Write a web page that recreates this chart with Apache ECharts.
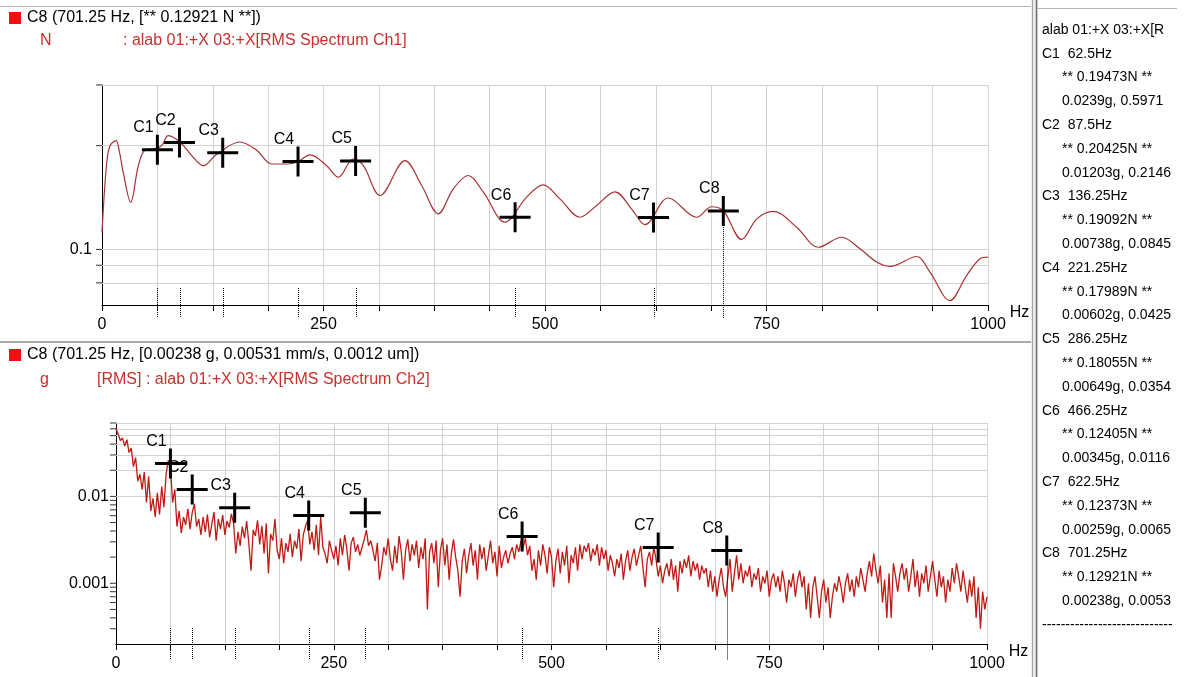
<!DOCTYPE html>
<html><head><meta charset="utf-8">
<script src="https://cdn.jsdelivr.net/npm/echarts@6/dist/echarts.min.js"></script>
<style>html,body{margin:0;padding:0;background:#fff}#chart{width:1191px;height:677px}</style>
</head><body><div id="chart"></div>
<script>
// ---------- data ----------
const TOP_HZ = [0,5,9,15.8,20,24,32.4,41,48.5,59.8,67.4,74.8,88,103,114.4,129.4,155.8,174.6,191.5,208.5,219.8,234.8,253.6,266.7,283.7,295,313.8,342,360.8,379.6,396.5,413.4,430.4,454.9,479.3,498,517,539.5,558,579,597.8,612.9,639.2,671.2,688,701.25,722,739,757.7,784,808.5,834.8,855.5,874.4,889.4,919.5,934.5,957,976,991,1000];
const TOP_N = [0.112,0.175,0.2,0.207,0.19,0.167,0.137,0.175,0.194,0.196,0.2,0.214,0.205,0.185,0.175,0.189,0.205,0.194,0.177,0.177,0.179,0.188,0.175,0.162,0.183,0.175,0.1434,0.181,0.1533,0.1269,0.150,0.1639,0.1466,0.120,0.1418,0.154,0.140,0.124,0.134,0.147,0.131,0.118,0.141,0.124,0.133,0.1295,0.1069,0.1227,0.129,0.116,0.1015,0.1085,0.1005,0.0919,0.0893,0.0954,0.086,0.0711,0.0841,0.094,0.095];

const BOT_STEP_HZ = 2.5;
const BOT_G = [
.060,.052,.044,.047,.038,.045,.032,.036,.022,.028,.015,.018,.012,.019,.0085,.017,.0068,.0095,.0058,.011,
.0062,.013,.0075,.018,.026,.022,.0085,.012,.0045,.0068,.0038,.0058,.0047,.0072,.0042,.0065,.0082,.0045,.0055,.0036,
.0058,.0039,.0062,.0034,.0048,.0066,.0031,.0055,.0042,.0061,.0036,.0052,.0044,.0063,.0049,.0022,.0039,.0027,.0045,.0033,
.0052,.0029,.0014,.0041,.0035,.0053,.0028,.0046,.0022,.0049,.0013,.0037,.0031,.0055,.0024,.0019,.0033,.0017,.0029,.0023,
.0037,.002,.0031,.0025,.0042,.0018,.0036,.0045,.0053,.0028,.0039,.0024,.0047,.0021,.0058,.0026,.0022,.0017,.0031,.0024,
.0019,.0027,.0016,.0033,.0021,.0036,.0025,.0014,.0029,.0034,.0023,.0028,.0021,.0026,.0032,.0041,.0027,.0031,.0024,.0018,
.0029,.0011,.0016,.0026,.0021,.0033,.0019,.0014,.0027,.0017,.0035,.0023,.0011,.0024,.0032,.0018,.0028,.0021,.0031,.0015,
.0026,.0019,.0033,.0005,.0023,.0029,.0017,.0031,.0009,.0024,.0033,.0016,.0028,.0011,.0022,.0032,.002,.0014,.0007,.0018,
.0025,.0013,.0021,.0029,.0016,.0024,.0011,.0028,.0019,.0026,.0014,.0021,.0031,.0017,.0023,.0012,.0027,.0015,.002,.0024,
.0017,.0022,.0026,.0019,.0028,.0023,.0031,.0026,.0033,.0021,.0027,.0014,.0019,.0011,.0024,.0016,.0028,.0021,.0013,.0026,
.002,.0009,.0018,.0025,.0013,.0023,.0016,.0027,.001,.0021,.0017,.0026,.0014,.0028,.0019,.0027,.0023,.0029,.0018,.0025,
.0021,.0028,.0016,.0026,.0019,.0024,.0014,.0021,.0017,.0012,.0019,.0015,.0022,.0011,.0018,.0024,.0014,.002,.0025,.0016,
.0021,.0027,.0015,.0009,.0019,.0023,.0016,.0026,.0019,.0012,.0016,.001,.0014,.0017,.0012,.0019,.0011,.0016,.0008,.0018,
.0013,.0019,.0015,.0021,.0012,.0018,.0014,.0017,.0011,.0016,.0013,.0015,.0009,.0014,.0008,.0012,.0007,.0011,.0015,.0009,
.0007,.0012,.0019,.0008,.0013,.0021,.0011,.0017,.001,.0014,.0012,.0016,.0009,.0013,.0011,.0015,.0008,.0012,.001,.0014,
.0007,.0011,.0013,.0009,.0012,.0008,.0014,.001,.0006,.0011,.0009,.0013,.0007,.0011,.0014,.0009,.0012,.0005,.001,.0004,
.0009,.0012,.0007,.0004,.0008,.0011,.0006,.0009,.0004,.0007,.001,.0008,.0012,.0009,.0006,.001,.0013,.0008,.0011,.0007,
.0012,.0009,.0015,.0011,.0008,.0013,.0018,.0012,.0022,.0014,.001,.0016,.0006,.0011,.0004,.0013,.0004,.0017,.0012,.0008,
.0013,.0017,.0011,.0015,.0008,.0012,.0019,.0009,.0014,.0007,.0013,.001,.0016,.0008,.0012,.0018,.0011,.0007,.0014,.0009,
.0012,.0006,.0011,.0008,.0015,.001,.0017,.0012,.0008,.0014,.0009,.0006,.0011,.0007,.0012,.0004,.0009,.0003,.0008,.0005,.0007
];

const CURSOR_NAMES = ['C1','C2','C3','C4','C5','C6','C7','C8'];
const CURSOR_HZ = [62.5, 87.5, 136.25, 221.25, 286.25, 466.25, 622.5, 701.25];
const CURSOR_N = [0.19473, 0.20425, 0.19092, 0.17989, 0.18055, 0.12405, 0.12373, 0.12921];
const CURSOR_G = [0.0239, 0.01203, 0.00738, 0.00602, 0.00649, 0.00345, 0.00259, 0.00238];
const CURSOR_MMS = [0.5971, 0.2146, 0.0845, 0.0425, 0.0354, 0.0116, 0.0065, 0.00531];
const ACTIVE_CURSOR = 7;

const X_LABELS = [0, 250, 500, 750, 1000];
const TOP_Y_LABELS = [0.1];
const BOT_Y_LABELS = [0.001, 0.01];
const TOP_GRID = [0.08, 0.09, 0.1, 0.2, 0.3];
const BOT_GRID = [0.0003,0.0004,0.0005,0.0006,0.0007,0.0008,0.0009,0.001,0.002,0.003,0.004,0.005,0.006,0.007,0.008,0.009,0.01,0.02,0.03,0.04,0.05,0.06,0.07];

const TOP_TITLE = 'C8 (701.25 Hz, [** 0.12921 N **])';
const TOP_UNIT = 'N';
const TOP_SRC = ': alab 01:+X 03:+X[RMS Spectrum Ch1]';
const BOT_TITLE = 'C8 (701.25 Hz, [0.00238 g, 0.00531 mm/s, 0.0012 um])';
const BOT_UNIT = 'g';
const BOT_SRC = '[RMS] : alab 01:+X 03:+X[RMS Spectrum Ch2]';
const PANEL_HEAD = 'alab 01:+X 03:+X[RMS Spectrum Ch1]';

// ---------- styling / layout ----------
const FONT = "'Liberation Sans', Arial, sans-serif";
const NARROW = "'Liberation Sans Narrow', 'Liberation Sans', Arial, sans-serif";
const GRID_COLOR = '#d2d2d2';
const PLUS = 'path://M0,13.5H31V16.5H0Z M14,0H17V30H14Z';
const TOP_MIN = 0.069, TOP_MAX = 0.3, BOT_MIN = 0.0002, BOT_MAX = 0.07;

function labelFmt(list){
  return v => { const m = list.find(l => Math.abs(l - v) / l < 1e-6); return m === undefined ? '' : String(m); };
}
function xAxis(gi){
  return {type:'value', gridIndex:gi, min:0, max:1000, interval:62.5,
    name:'Hz', nameLocation:'end', nameGap:17,
    nameTextStyle:{fontSize:16, fontFamily:FONT, color:'#000', verticalAlign:'top', align:'left'},
    axisLine:{show:true, onZero:false, lineStyle:{color:'#000', width:1}},
    axisTick:{show:true, length:6, lineStyle:{color:'#000'}},
    axisLabel:{margin:12, fontSize:16, fontFamily:FONT, color:'#000', hideOverlap:false,
      showMinLabel:true, showMaxLabel:true, formatter: v => X_LABELS.includes(v) ? String(v) : ''},
    splitLine:{show:true, lineStyle:{color:GRID_COLOR, width:1}}};
}
function yAxis(gi, min, max, labels, margin){
  return {type:'log', logBase:10, gridIndex:gi, min, max,
    axisLine:{show:true, onZero:false, lineStyle:{color:'#000', width:1}},
    axisTick:{show:false}, splitLine:{show:false}, minorTick:{show:false},
    axisLabel:{margin, fontSize:16, fontFamily:FONT, color:'#000', hideOverlap:false, formatter: labelFmt(labels)}};
}
function tickSeries(ai, vals){
  return {type:'scatter', xAxisIndex:ai, yAxisIndex:ai, data: vals.map(v => [0, v]),
    symbol:'rect', symbolSize:[6,1], symbolOffset:[-3,0], itemStyle:{color:'#000'},
    clip:false, silent:true, z:4, animation:false,
    markLine:{silent:true, z:1, animation:false, symbol:['none','none'], label:{show:false},
      lineStyle:{color:GRID_COLOR, type:'solid', width:1}, emphasis:{disabled:true},
      data: vals.map(v => ({yAxis:v}))}};
}
function cursorSeries(ai, vals){
  return {type:'scatter', xAxisIndex:ai, yAxisIndex:ai,
    data: CURSOR_HZ.map((h,i) => ({value:[h, vals[i]], name:CURSOR_NAMES[i]})),
    symbol:PLUS, symbolSize:[31,30], itemStyle:{color:'#000', opacity:1},
    clip:false, silent:true, z:10, animation:false,
    label:{show:true, formatter:'{b}', position:'inside', offset:[-14,-22], fontSize:16, fontFamily:NARROW, color:'#000'}};
}

// ---------- right panel text ----------
const panelRows = [PANEL_HEAD];
CURSOR_NAMES.forEach((n,i) => {
  panelRows.push(n + '  ' + CURSOR_HZ[i] + 'Hz');
  panelRows.push('** ' + CURSOR_N[i] + 'N **');
  panelRows.push(CURSOR_G[i] + 'g, ' + CURSOR_MMS[i] + 'mm/s');
});
panelRows.push('------------------------------------------');
const PANEL_RIGHT = 1177;
const panelGraphics = panelRows.map((t,k) => {
  const indent = (k > 0 && k < panelRows.length - 1 && (k - 1) % 3 !== 0) ? 1062 : 1042;
  return {type:'text', x:indent, y:30 + k*23.8, silent:true,
    style:{text:t, font:'14px ' + FONT, fill:'#000', verticalAlign:'middle',
      width:PANEL_RIGHT - indent, overflow:'truncate', ellipsis:''}};
});

const baseGraphics = [
  {type:'line', silent:true, shape:{x1:0, y1:6.5, x2:1031, y2:6.5}, style:{stroke:'#b4b4b4', lineWidth:1}},
  {type:'line', silent:true, shape:{x1:1038, y1:8.5, x2:1177, y2:8.5}, style:{stroke:'#b4b4b4', lineWidth:1}},
  {type:'line', silent:true, shape:{x1:0, y1:342, x2:1031, y2:342}, style:{stroke:'#a8a8a8', lineWidth:2}},
  {type:'rect', silent:true, shape:{x:1031, y:0, width:7, height:677}, style:{fill:'#ececec'}},
  {type:'line', silent:true, shape:{x1:1032.5, y1:0, x2:1032.5, y2:677}, style:{stroke:'#a0a0a0', lineWidth:1}},
  {type:'line', silent:true, shape:{x1:1036.5, y1:0, x2:1036.5, y2:677}, style:{stroke:'#6e6e6e', lineWidth:1.5}},
  {type:'rect', silent:true, shape:{x:9, y:12, width:12, height:12}, style:{fill:'#ee1111'}},
  {type:'text', silent:true, x:27, y:18, style:{text:TOP_TITLE, font:'16px ' + FONT, fill:'#000', verticalAlign:'middle'}},
  {type:'text', silent:true, x:40, y:41, style:{text:TOP_UNIT, font:'16px ' + FONT, fill:'#c8302c', verticalAlign:'middle'}},
  {type:'text', silent:true, x:123, y:41, style:{text:TOP_SRC, font:'16px ' + FONT, fill:'#c8302c', verticalAlign:'middle'}},
  {type:'rect', silent:true, shape:{x:9, y:349, width:12, height:12}, style:{fill:'#ee1111'}},
  {type:'text', silent:true, x:27, y:355, style:{text:BOT_TITLE, font:'16px ' + FONT, fill:'#000', verticalAlign:'middle'}},
  {type:'text', silent:true, x:40, y:380, style:{text:BOT_UNIT, font:'16px ' + FONT, fill:'#c8302c', verticalAlign:'middle'}},
  {type:'text', silent:true, x:97, y:380, style:{text:BOT_SRC, font:'16px ' + FONT, fill:'#c8302c', verticalAlign:'middle'}}
].concat(panelGraphics);

const chart = echarts.init(document.getElementById('chart'), null, {renderer:'canvas'});
chart.setOption({
  animation:false,
  backgroundColor:'#fff',
  grid:[
    {left:102, top:85, width:886, height:220, outerBoundsMode:'none'},
    {left:116, top:423, width:871, height:221, outerBoundsMode:'none'}
  ],
  xAxis:[xAxis(0), xAxis(1)],
  yAxis:[yAxis(0, TOP_MIN, TOP_MAX, TOP_Y_LABELS, 10), yAxis(1, BOT_MIN, BOT_MAX, BOT_Y_LABELS, 7)],
  series:[
    tickSeries(0, TOP_GRID),
    tickSeries(1, BOT_GRID),
    {type:'line', xAxisIndex:0, yAxisIndex:0, data: TOP_HZ.map((h,i) => [h, TOP_N[i]]),
      smooth:0.35, showSymbol:false, silent:true, z:3,
      lineStyle:{color:'#a83232', width:1.2}},
    {type:'line', xAxisIndex:1, yAxisIndex:1, data: BOT_G.map((v,i) => [i*BOT_STEP_HZ, v]),
      showSymbol:false, silent:true, z:3,
      lineStyle:{color:'#bf1a14', width:1.3}},
    cursorSeries(0, CURSOR_N),
    cursorSeries(1, CURSOR_G)
  ],
  graphic: baseGraphics
});

// dotted cursor guide lines, positioned through the chart's own scales
function guideLines(gi, vals, minVal, above, below){
  return CURSOR_HZ.map((h,i) => {
    const base = chart.convertToPixel({gridIndex:gi}, [h, minVal]);
    const x = Math.round(base[0]) + 0.5;
    let yTop = base[1] - above;
    if (i === ACTIVE_CURSOR) yTop = chart.convertToPixel({gridIndex:gi}, [h, vals[i]])[1];
    return {type:'line', silent:true, z:20,
      shape:{x1:x, y1:yTop, x2:x, y2:base[1] + below},
      style:{stroke:'#000', lineWidth:1, lineDash:[1,1]}};
  });
}
chart.setOption({graphic: baseGraphics
  .concat(guideLines(0, CURSOR_N, TOP_MIN, 17, 13))
  .concat(guideLines(1, CURSOR_G, BOT_MIN, 16, 16))});
</script></body></html>
